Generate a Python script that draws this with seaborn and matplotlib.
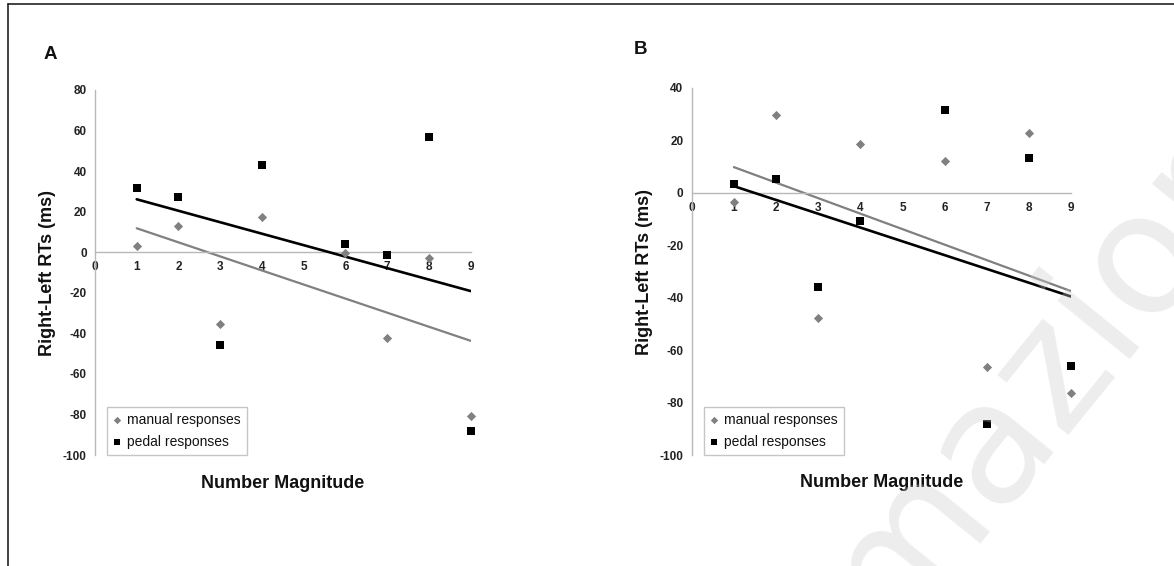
import matplotlib
matplotlib.use("Agg")
import matplotlib.pyplot as plt
import seaborn as sns
import pandas as pd
from matplotlib.lines import Line2D

# ---- data ----
magnitude = [1, 2, 3, 4, 6, 7, 8, 9]
manual_A = [3.3, 13.1, -35.2, 17.6, -0.5, -42.1, -3.0, -80.7]
pedal_A = [31.6, 27.4, -45.9, 42.9, 4.3, -1.5, 57.0, -88.0]
manual_B = [-3.6, 29.5, -47.8, 18.4, 12.2, -66.3, 22.9, -76.5]
pedal_B = [3.3, 5.1, -36.1, -10.9, 31.4, -88.2, 13.2, -66.2]
x_ticks = list(range(0, 10))
y_ticks_A = list(range(-100, 81, 20))
y_ticks_B = list(range(-100, 41, 20))
series_labels = ["manual responses", "pedal responses"]

sns.set_theme(style="white")
plt.rcParams["font.family"] = ["Liberation Sans", "DejaVu Sans"]

fig = plt.figure(figsize=(11.74, 5.66), dpi=100)

GRAY = "#808080"
SPINE = "#b8b8b8"

def panel(rect, manual, pedal, yticks, ylab_x, xlab_y, ylab_y=0.5):
    ax = fig.add_axes(rect)
    df = pd.DataFrame({"x": magnitude, "manual": manual, "pedal": pedal})
    sns.regplot(data=df, x="x", y="manual", scatter=False, ci=None, ax=ax,
                line_kws=dict(color=GRAY, lw=1.6, zorder=2))
    sns.regplot(data=df, x="x", y="pedal", scatter=False, ci=None, ax=ax,
                line_kws=dict(color="black", lw=1.9, zorder=3))
    sns.scatterplot(data=df, x="x", y="manual", marker="D", color=GRAY, s=22,
                    edgecolor=GRAY, linewidth=0, ax=ax, zorder=4, clip_on=False,
                    label=series_labels[0])
    sns.scatterplot(data=df, x="x", y="pedal", marker="s", color="black", s=30,
                    edgecolor="black", linewidth=0, ax=ax, zorder=5, clip_on=False,
                    label=series_labels[1])
    ax.set_xlim(0, 9)
    ax.set_ylim(yticks[0], yticks[-1])
    ax.set_xticks(x_ticks)
    ax.set_yticks(yticks)
    ax.set_xticklabels([str(t) for t in x_ticks])
    ax.set_yticklabels([str(t) for t in yticks])
    for s in ["top", "right"]:
        ax.spines[s].set_visible(False)
    ax.spines["bottom"].set_position(("data", 0))
    ax.spines["bottom"].set_color(SPINE)
    ax.spines["left"].set_color(SPINE)
    ax.spines["bottom"].set_linewidth(1.0)
    ax.spines["left"].set_linewidth(1.0)
    ax.tick_params(axis="x", direction="inout", length=5, width=0.8, color=SPINE,
                   pad=4, labelsize=8.5, labelcolor="#222222")
    ax.tick_params(axis="y", direction="out", length=3, width=0.8, color=SPINE,
                   pad=3, labelsize=8.5, labelcolor="#222222")
    for lab in ax.get_xticklabels() + ax.get_yticklabels():
        lab.set_fontweight("bold")
    ax.set_xlabel("Number Magnitude", fontsize=13, fontweight="bold", color="#111111")
    ax.set_ylabel("Right-Left RTs (ms)", fontsize=13, fontweight="bold", color="#111111")
    ax.xaxis.set_label_coords(0.5, xlab_y)
    ax.yaxis.set_label_coords(ylab_x, ylab_y)
    ax.patch.set_alpha(0)
    leg = ax.legend(loc="lower left", bbox_to_anchor=(0.032, 0.0), frameon=True,
                    fancybox=False, fontsize=10, handlelength=0.6, handletextpad=0.4,
                    borderpad=0.45, labelspacing=0.55, borderaxespad=0.0,
                    markerscale=0.8)
    leg.get_frame().set_edgecolor(SPINE)
    leg.get_frame().set_linewidth(1.0)
    for t in leg.get_texts():
        t.set_color("#111111")
    return ax

axA = panel([0.0809, 0.1961, 0.3200, 0.6449], manual_A, pedal_A, y_ticks_A,
            -0.104, -0.055)
axB = panel([0.5892, 0.1961, 0.3231, 0.6489], manual_B, pedal_B, y_ticks_B,
            -0.101, -0.053, 0.497)

fig.text(0.0375, 0.903, "A", fontsize=13.5, fontweight="bold", color="#111111",
         ha="left", va="center")
fig.text(0.540, 0.913, "B", fontsize=13.5, fontweight="bold", color="#111111",
         ha="left", va="center")

# semi-transparent watermark on top
fig.text(0.758, -0.125, "mazione", fontsize=122, family="DejaVu Sans",
         color="#cccccc", alpha=0.35, rotation=51, rotation_mode="anchor",
         ha="left", va="baseline", zorder=10)

# outer frame lines (left and top)
fig.add_artist(Line2D([0.0065, 0.0065], [0, 0.993], color="#222222", lw=1.2,
                      transform=fig.transFigure))
fig.add_artist(Line2D([0.0065, 1.0], [0.993, 0.993], color="#222222", lw=1.2,
                      transform=fig.transFigure))

fig.savefig("out.png", dpi=100)
